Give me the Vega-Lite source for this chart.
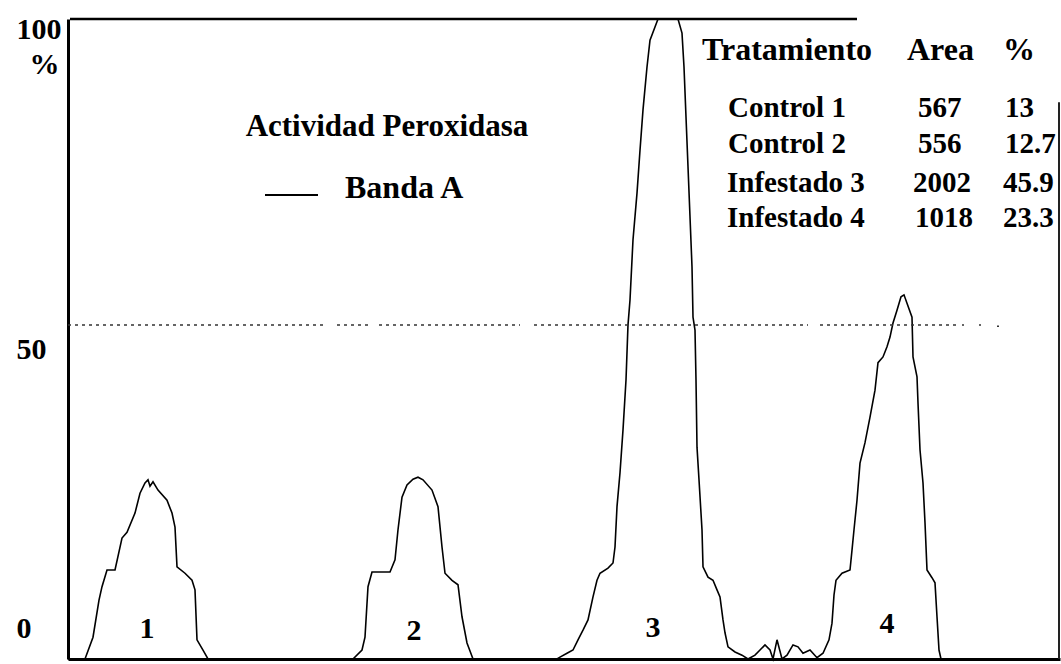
{
  "$schema": "https://vega.github.io/schema/vega-lite/v6.json",
  "width": 992,
  "height": 640,
  "autosize": {"type": "none"},
  "padding": {"left": 68, "top": 19, "right": 1, "bottom": 5},
  "background": "white",
  "config": {"view": {"stroke": null}, "font": "Liberation Serif"},
  "resolve": {"axis": {"x": "independent", "y": "independent"}},
  "datasets": {
    "trace": [
      {"x": 0, "y": 0}, {"x": 17, "y": 0}, {"x": 25, "y": 3.4}, {"x": 31, "y": 9.2}, {"x": 34, "y": 11.3}, {"x": 39, "y": 13.9},
      {"x": 47, "y": 13.9}, {"x": 54, "y": 18.9}, {"x": 59, "y": 19.8}, {"x": 67, "y": 22.8}, {"x": 72, "y": 25.9},
      {"x": 77, "y": 27.5}, {"x": 80, "y": 28.0}, {"x": 82, "y": 27.0}, {"x": 85, "y": 27.7}, {"x": 90, "y": 26.4},
      {"x": 99, "y": 24.8}, {"x": 104, "y": 22.8}, {"x": 107, "y": 20.6}, {"x": 109, "y": 14.4}, {"x": 117, "y": 13.4},
      {"x": 124, "y": 12.3}, {"x": 127, "y": 10.8}, {"x": 129, "y": 3.0}, {"x": 135, "y": 1.4}, {"x": 140, "y": 0},
      {"x": 285, "y": 0}, {"x": 294, "y": 1.4}, {"x": 297, "y": 3.4}, {"x": 300, "y": 11.3}, {"x": 304, "y": 13.6},
      {"x": 322, "y": 13.6}, {"x": 327, "y": 15.5}, {"x": 330, "y": 20.2}, {"x": 334, "y": 25.3}, {"x": 339, "y": 27.2},
      {"x": 345, "y": 28.1}, {"x": 350, "y": 28.4}, {"x": 355, "y": 28.0}, {"x": 364, "y": 26.4}, {"x": 370, "y": 23.8},
      {"x": 374, "y": 17.5}, {"x": 377, "y": 13.4}, {"x": 384, "y": 12.3}, {"x": 390, "y": 11.6}, {"x": 394, "y": 6.6},
      {"x": 399, "y": 2.5}, {"x": 405, "y": 0},
      {"x": 489, "y": 0}, {"x": 492, "y": 0.3}, {"x": 499, "y": 0.9}, {"x": 505, "y": 1.4}, {"x": 510, "y": 3.0},
      {"x": 515, "y": 4.5}, {"x": 520, "y": 6.1}, {"x": 525, "y": 9.7}, {"x": 529, "y": 12.3}, {"x": 532, "y": 13.4},
      {"x": 540, "y": 14.2}, {"x": 545, "y": 15.0}, {"x": 547, "y": 17.5}, {"x": 549, "y": 23.8}, {"x": 552, "y": 29.1},
      {"x": 555, "y": 35.8}, {"x": 558, "y": 43.6}, {"x": 560, "y": 52.2}, {"x": 562, "y": 56.1}, {"x": 565, "y": 65.5},
      {"x": 569, "y": 72.8}, {"x": 572, "y": 79.5}, {"x": 575, "y": 85.8}, {"x": 579, "y": 92.5}, {"x": 582, "y": 96.7},
      {"x": 590, "y": 100}, {"x": 610, "y": 100}, {"x": 614, "y": 97.8}, {"x": 616, "y": 92.5}, {"x": 618, "y": 84.7},
      {"x": 620, "y": 76.9}, {"x": 622, "y": 69.1}, {"x": 624, "y": 61.3}, {"x": 625, "y": 53.4}, {"x": 627, "y": 51.4},
      {"x": 628, "y": 43.6}, {"x": 629, "y": 33.1}, {"x": 631, "y": 28.0}, {"x": 634, "y": 20.2}, {"x": 635, "y": 14.4},
      {"x": 640, "y": 12.8}, {"x": 645, "y": 12.3}, {"x": 649, "y": 10.8}, {"x": 652, "y": 9.7}, {"x": 655, "y": 6.1},
      {"x": 657, "y": 4.1}, {"x": 660, "y": 1.9}, {"x": 667, "y": 1.1}, {"x": 674, "y": 0.6}, {"x": 680, "y": 0},
      {"x": 687, "y": 0.6}, {"x": 692, "y": 1.4}, {"x": 697, "y": 2.2}, {"x": 702, "y": 1.4}, {"x": 705, "y": 0},
      {"x": 709, "y": 3.0}, {"x": 714, "y": 0}, {"x": 719, "y": 0.6}, {"x": 725, "y": 2.2}, {"x": 730, "y": 1.9},
      {"x": 735, "y": 0.9}, {"x": 742, "y": 1.4}, {"x": 749, "y": 0.2}, {"x": 755, "y": 0.9}, {"x": 761, "y": 3.0},
      {"x": 764, "y": 5.6}, {"x": 766, "y": 10.0}, {"x": 768, "y": 12.3}, {"x": 774, "y": 13.4}, {"x": 782, "y": 13.9},
      {"x": 784, "y": 17.0}, {"x": 786, "y": 20.2}, {"x": 789, "y": 24.8}, {"x": 792, "y": 30.6}, {"x": 797, "y": 33.8},
      {"x": 802, "y": 37.8}, {"x": 807, "y": 42.0}, {"x": 810, "y": 46.3}, {"x": 815, "y": 47.2}, {"x": 819, "y": 48.8},
      {"x": 822, "y": 50.3}, {"x": 825, "y": 52.5}, {"x": 829, "y": 54.5}, {"x": 833, "y": 56.6}, {"x": 836, "y": 56.9},
      {"x": 839, "y": 55.6}, {"x": 844, "y": 53.4}, {"x": 845, "y": 47.2}, {"x": 849, "y": 44.1}, {"x": 850, "y": 40.0},
      {"x": 852, "y": 32.7}, {"x": 855, "y": 27.5}, {"x": 857, "y": 21.3}, {"x": 859, "y": 13.9}, {"x": 864, "y": 12.7},
      {"x": 867, "y": 11.9}, {"x": 869, "y": 6.6}, {"x": 871, "y": 1.4}, {"x": 873, "y": 0}
    ],
    "frameTop": [{"x": 2, "x2": 789, "y": 100}],
    "frameRight": [{"x": 991, "y": 0, "y2": 87}],
    "dotted": [
      {"x": 0, "x2": 255, "y": 52.2}, {"x": 269, "x2": 300, "y": 52.2}, {"x": 311, "x2": 452, "y": 52.2},
      {"x": 466, "x2": 740, "y": 52.2}, {"x": 752, "x2": 889, "y": 52.2}
    ],
    "dots": [{"x": 894, "x2": 896, "y": 52.2}, {"x": 911, "x2": 913, "y": 52.2}, {"x": 929, "x2": 931, "y": 52.0}],
    "legendLine": [{"x": 197, "x2": 250, "y": 72.5}],
    "title": [{"x": 319, "y": 81.7, "text": "Actividad Peroxidasa"}],
    "legendText": [{"x": 277, "y": 72.0, "text": "Banda A"}],
    "header": [
      {"x": 634, "y": 93.6, "text": "Tratamiento"},
      {"x": 839, "y": 93.6, "text": "Area"},
      {"x": 935, "y": 93.6, "text": "%"}
    ],
    "rows": [
      {"x": 660, "y": 84.7, "text": "Control 1"}, {"x": 850, "y": 84.7, "text": "567"}, {"x": 937, "y": 84.7, "text": "13"},
      {"x": 660, "y": 79.1, "text": "Control 2"}, {"x": 850, "y": 79.1, "text": "556"}, {"x": 937, "y": 79.1, "text": "12.7"},
      {"x": 659, "y": 73.0, "text": "Infestado  3"}, {"x": 845, "y": 73.0, "text": "2002"}, {"x": 935, "y": 73.0, "text": "45.9"},
      {"x": 659, "y": 67.5, "text": "Infestado  4"}, {"x": 847, "y": 67.5, "text": "1018"}, {"x": 935, "y": 67.5, "text": "23.3"}
    ],
    "peaks": [
      {"x": 79, "y": 3.3, "text": "1"}, {"x": 346, "y": 3.0, "text": "2"},
      {"x": 585, "y": 3.4, "text": "3"}, {"x": 819, "y": 4.1, "text": "4"}
    ]
  },
  "layer": [
    {
      "data": {"name": "trace"},
      "mark": {"type": "line", "color": "black", "strokeWidth": 1.6},
      "encoding": {
        "x": {
          "field": "x", "type": "quantitative", "scale": {"domain": [0, 992], "nice": false},
          "axis": {"domain": true, "domainColor": "black", "domainWidth": 3, "labels": false, "ticks": false, "grid": false, "title": null}
        },
        "y": {
          "field": "y", "type": "quantitative", "scale": {"domain": [0, 100], "nice": false},
          "axis": {
            "values": [0, 50, 100], "title": "%", "titleAngle": 0, "titleX": -24, "titleY": 45,
            "titleAlign": "center", "titleBaseline": "middle", "titleFont": "Liberation Serif",
            "titleFontSize": 30, "titleFontWeight": "bold", "titleColor": "black",
            "labelFont": "Liberation Serif", "labelFontSize": 30, "labelFontWeight": "bold", "labelColor": "black",
            "labelAlign": "left", "labelBaseline": "middle", "labelPadding": 52,
            "labelOffset": {"condition": {"test": "datum.value == 0", "value": -31}, "value": 10},
            "ticks": false, "tickSize": 0, "grid": false,
            "domainColor": "black", "domainWidth": 3
          }
        }
      }
    },
    {
      "data": {"name": "dotted"},
      "mark": {"type": "rule", "color": "#333", "strokeWidth": 1.5, "strokeDash": [3, 4]},
      "encoding": {
        "x": {"field": "x", "type": "quantitative", "scale": {"domain": [0, 992], "nice": false}, "axis": null},
        "x2": {"field": "x2"},
        "y": {"field": "y", "type": "quantitative", "scale": {"domain": [0, 100], "nice": false}, "axis": null}
      }
    },
    {
      "data": {"name": "dots"},
      "mark": {"type": "rule", "color": "#333", "strokeWidth": 1.5},
      "encoding": {
        "x": {"field": "x", "type": "quantitative", "scale": {"domain": [0, 992], "nice": false}, "axis": null},
        "x2": {"field": "x2"},
        "y": {"field": "y", "type": "quantitative", "scale": {"domain": [0, 100], "nice": false}, "axis": null}
      }
    },
    {
      "data": {"name": "frameTop"},
      "mark": {"type": "rule", "color": "black", "strokeWidth": 2.5},
      "encoding": {
        "x": {"field": "x", "type": "quantitative", "scale": {"domain": [0, 992], "nice": false}, "axis": null},
        "x2": {"field": "x2"},
        "y": {"field": "y", "type": "quantitative", "scale": {"domain": [0, 100], "nice": false}, "axis": null}
      }
    },
    {
      "data": {"name": "frameRight"},
      "mark": {"type": "rule", "color": "#222", "strokeWidth": 2},
      "encoding": {
        "x": {"field": "x", "type": "quantitative", "scale": {"domain": [0, 992], "nice": false}, "axis": null},
        "y": {"field": "y", "type": "quantitative", "scale": {"domain": [0, 100], "nice": false}, "axis": null},
        "y2": {"field": "y2"}
      }
    },
    {
      "data": {"name": "legendLine"},
      "mark": {"type": "rule", "color": "black", "strokeWidth": 2},
      "encoding": {
        "x": {"field": "x", "type": "quantitative", "scale": {"domain": [0, 992], "nice": false}, "axis": null},
        "x2": {"field": "x2"},
        "y": {"field": "y", "type": "quantitative", "scale": {"domain": [0, 100], "nice": false}, "axis": null}
      }
    },
    {
      "data": {"name": "title"},
      "mark": {"type": "text", "font": "Liberation Serif", "fontSize": 31, "fontWeight": "bold", "align": "center", "baseline": "alphabetic", "color": "black"},
      "encoding": {
        "x": {"field": "x", "type": "quantitative", "scale": {"domain": [0, 992], "nice": false}, "axis": null},
        "y": {"field": "y", "type": "quantitative", "scale": {"domain": [0, 100], "nice": false}, "axis": null},
        "text": {"field": "text"}
      }
    },
    {
      "data": {"name": "legendText"},
      "mark": {"type": "text", "font": "Liberation Serif", "fontSize": 32, "fontWeight": "bold", "align": "left", "baseline": "alphabetic", "color": "black"},
      "encoding": {
        "x": {"field": "x", "type": "quantitative", "scale": {"domain": [0, 992], "nice": false}, "axis": null},
        "y": {"field": "y", "type": "quantitative", "scale": {"domain": [0, 100], "nice": false}, "axis": null},
        "text": {"field": "text"}
      }
    },
    {
      "data": {"name": "header"},
      "mark": {"type": "text", "font": "Liberation Serif", "fontSize": 32, "fontWeight": "bold", "align": "left", "baseline": "alphabetic", "color": "black"},
      "encoding": {
        "x": {"field": "x", "type": "quantitative", "scale": {"domain": [0, 992], "nice": false}, "axis": null},
        "y": {"field": "y", "type": "quantitative", "scale": {"domain": [0, 100], "nice": false}, "axis": null},
        "text": {"field": "text"}
      }
    },
    {
      "data": {"name": "rows"},
      "mark": {"type": "text", "font": "Liberation Serif", "fontSize": 29, "fontWeight": "bold", "align": "left", "baseline": "alphabetic", "color": "black"},
      "encoding": {
        "x": {"field": "x", "type": "quantitative", "scale": {"domain": [0, 992], "nice": false}, "axis": null},
        "y": {"field": "y", "type": "quantitative", "scale": {"domain": [0, 100], "nice": false}, "axis": null},
        "text": {"field": "text"}
      }
    },
    {
      "data": {"name": "peaks"},
      "mark": {"type": "text", "font": "Liberation Serif", "fontSize": 30, "fontWeight": "bold", "align": "center", "baseline": "alphabetic", "color": "black"},
      "encoding": {
        "x": {"field": "x", "type": "quantitative", "scale": {"domain": [0, 992], "nice": false}, "axis": null},
        "y": {"field": "y", "type": "quantitative", "scale": {"domain": [0, 100], "nice": false}, "axis": null},
        "text": {"field": "text"}
      }
    }
  ]
}
